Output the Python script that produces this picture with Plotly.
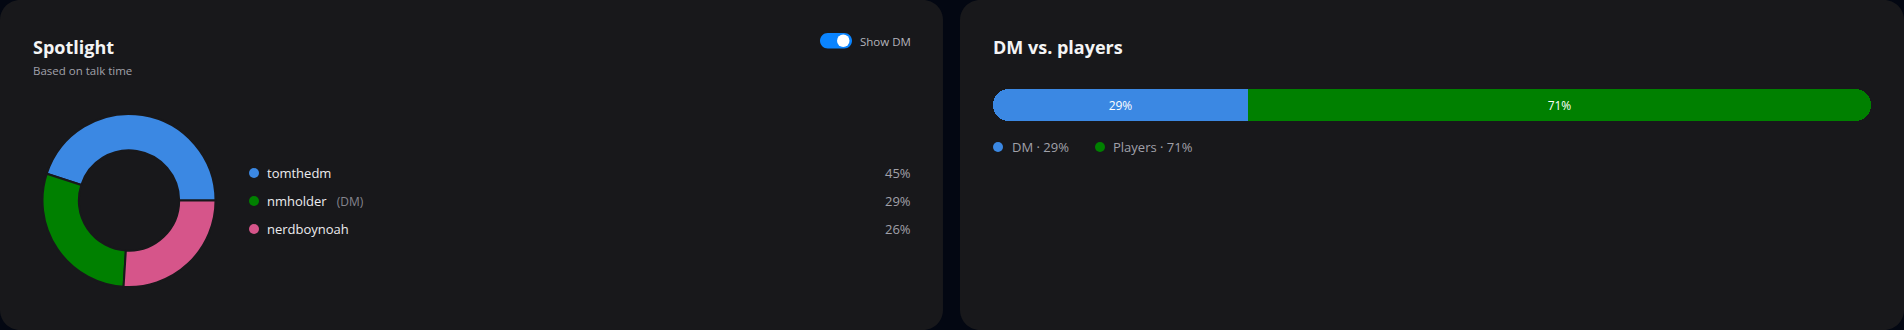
import plotly.graph_objects as go

W, H = 1904, 330

# ---------------- data ----------------
speakers = ["tomthedm", "nmholder", "nerdboynoah"]
speaker_share = [45, 29, 26]
speaker_is_dm = [False, True, False]
speaker_colors = ["#3b88e3", "#008000", "#d6558a"]

split_labels = ["DM", "Players"]
split_share = [29, 71]
split_colors = ["#3b88e3", "#008000"]

# ---------------- style ----------------
CARD = "#18181b"
PAGE = "#030712"
FONT = "Open Sans"
WHITE = "#f4f4f5"
GRAY = "#a1a1aa"
DIM = "#85858e"


def px(x):
    return x / W


def py(y):
    return 1 - y / H


def rrect(x0, y0, x1, y1, r):
    k = 0.5523 * r
    pts = [
        ("M", [(x0 + r, y0)]),
        ("L", [(x1 - r, y0)]),
        ("C", [(x1 - r + k, y0), (x1, y0 + r - k), (x1, y0 + r)]),
        ("L", [(x1, y1 - r)]),
        ("C", [(x1, y1 - r + k), (x1 - r + k, y1), (x1 - r, y1)]),
        ("L", [(x0 + r, y1)]),
        ("C", [(x0 + r - k, y1), (x0, y1 - r + k), (x0, y1 - r)]),
        ("L", [(x0, y0 + r)]),
        ("C", [(x0, y0 + r - k), (x0 + r - k, y0), (x0 + r, y0)]),
    ]
    s = ""
    for cmd, ps in pts:
        s += cmd + " " + " ".join(f"{px(a):.6f},{py(b):.6f}" for a, b in ps) + " "
    return s + "Z"


fig = go.Figure()

# ---------------- donut ----------------
# first slice starts at 3 o'clock and runs counter-clockwise
first_angle = 360 * speaker_share[0] / sum(speaker_share)
fig.add_trace(go.Pie(
    labels=speakers, values=speaker_share, hole=0.58, sort=False,
    direction="counterclockwise", rotation=90 - first_angle,
    marker=dict(colors=speaker_colors, line=dict(color=CARD, width=2)),
    textinfo="none", showlegend=False,
    domain=dict(x=[px(42.5), px(215.5)], y=[py(287), py(114)]),
))

# ---------------- DM vs players bar ----------------
# DM drawn to the left of zero, players to the right: each end gets rounded
fig.add_trace(go.Bar(
    y=[0], x=[-split_share[0]], orientation="h", width=1,
    marker=dict(color=split_colors[0], cornerradius=16, line=dict(width=0)),
    text=[f"{split_share[0]}%"], textposition="inside", insidetextanchor="middle",
    textangle=0, constraintext="none",
    textfont=dict(color="white", size=12, family=FONT),
    hovertemplate=split_labels[0] + ": %{text}<extra></extra>",
    xaxis="x2", yaxis="y2", name=split_labels[0], showlegend=False,
))
fig.add_trace(go.Bar(
    y=[0], x=[split_share[1]], orientation="h", width=1,
    marker=dict(color=split_colors[1], cornerradius=16, line=dict(width=0)),
    text=[f"{split_share[1]}%"], textposition="inside", insidetextanchor="middle",
    textangle=0, constraintext="none",
    textfont=dict(color="white", size=12, family=FONT),
    hovertemplate=split_labels[1] + ": %{text}<extra></extra>",
    xaxis="x2", yaxis="y2", name=split_labels[1], showlegend=False,
))

# ---------------- legend dots ----------------
fig.add_trace(go.Scatter(
    x=[254] * len(speakers), y=[173 + 28 * i for i in range(len(speakers))],
    mode="markers", marker=dict(size=10, color=speaker_colors),
    xaxis="x3", yaxis="y3", showlegend=False, hoverinfo="skip",
))
fig.add_trace(go.Scatter(
    x=[998, 1100], y=[147, 147],
    mode="markers", marker=dict(size=10, color=split_colors),
    xaxis="x3", yaxis="y3", showlegend=False, hoverinfo="skip",
))

# ---------------- shapes ----------------
shapes = [
    dict(type="path", path=rrect(0, 0, 943, 330, 20), xref="paper", yref="paper",
         fillcolor=CARD, line=dict(width=0), layer="below"),
    dict(type="path", path=rrect(960, 0, 1904, 330, 20), xref="paper", yref="paper",
         fillcolor=CARD, line=dict(width=0), layer="below"),
    dict(type="path", path=rrect(820, 33, 852, 48.5, 7.75), xref="paper", yref="paper",
         fillcolor="#0a84ff", line=dict(width=0), layer="below"),
    dict(type="circle", xref="paper", yref="paper",
         x0=px(837), x1=px(849.5), y0=py(47), y1=py(34.5),
         fillcolor="white", line=dict(width=0), layer="below"),
]

# ---------------- annotations ----------------
def ann(x, y, text, size, color, anchor="left", bold=False):
    return dict(x=px(x), y=py(y), xref="paper", yref="paper", text=f"<b>{text}</b>" if bold else text,
                showarrow=False, xanchor=anchor, yanchor="middle",
                font=dict(family=FONT, size=size, color=color), borderpad=0)


annotations = [
    ann(32, 47.5, "Spotlight", 18, WHITE, bold=True),
    ann(32, 70, "Based on talk time", 11.5, GRAY),
    ann(992, 47.5, "DM vs. players", 18, WHITE, bold=True),
    ann(859, 41, "Show DM", 11.5, "#b4b4bb"),
]
for i, (name, share, dm) in enumerate(zip(speakers, speaker_share, speaker_is_dm)):
    label = name + (f"&nbsp;&nbsp;&nbsp;<span style='color:{DIM};font-size:12px'>(DM)</span>" if dm else "")
    annotations.append(ann(266, 173 + 28 * i, label, 13, "#ececef"))
    annotations.append(ann(911.5, 173 + 28 * i, f"{share}%", 13, GRAY, anchor="right"))
for xpos, lab, share in zip([1011, 1112], split_labels, split_share):
    annotations.append(ann(xpos, 147, f"{lab} · {share}%", 13, GRAY))

fig.update_layout(
    width=W, height=H, margin=dict(l=0, r=0, t=0, b=0),
    paper_bgcolor=PAGE, plot_bgcolor="rgba(0,0,0,0)",
    barmode="relative", bargap=0,
    xaxis2=dict(domain=[px(993), px(1871)], range=[-split_share[0], split_share[1]],
                visible=False, fixedrange=True),
    yaxis2=dict(domain=[py(121), py(89)], range=[-0.5, 0.5], visible=False, fixedrange=True),
    xaxis3=dict(domain=[0, 1], range=[0, W], visible=False, fixedrange=True),
    yaxis3=dict(domain=[0, 1], range=[H, 0], visible=False, fixedrange=True),
    xaxis=dict(visible=False), yaxis=dict(visible=False),
    shapes=shapes, annotations=annotations,
    font=dict(family=FONT),
)

fig.write_html("out.html")
